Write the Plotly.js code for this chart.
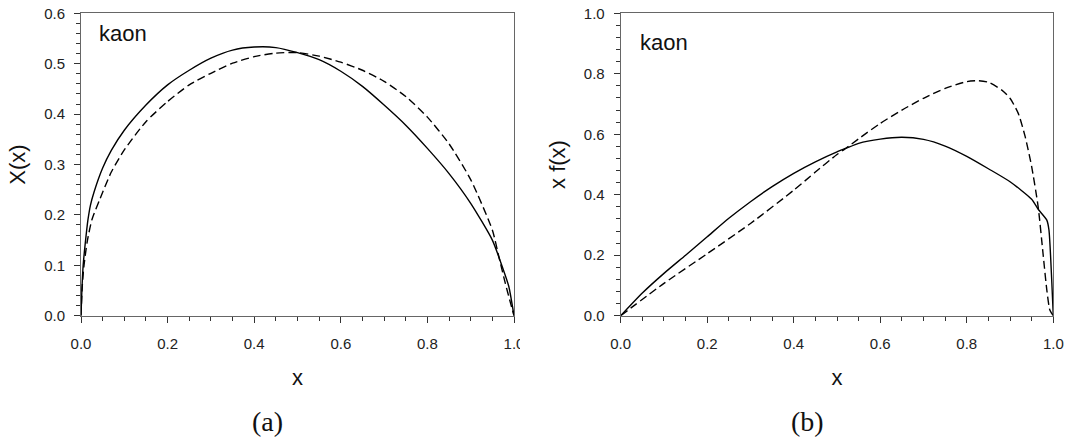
<!DOCTYPE html>
<html>
<head>
<meta charset="utf-8">
<script src="https://cdn.plot.ly/plotly-3.0.1.min.js"></script>
<style>html,body{margin:0;padding:0;background:#fff;}#chart{width:1071px;height:442px;}</style>
</head>
<body>
<div id="chart"></div>
<script>
// Panel (a): X(x) for kaon
const xaSolid = [0, 0.002, 0.005, 0.01, 0.016, 0.022, 0.03, 0.05, 0.07, 0.1, 0.15, 0.2, 0.25, 0.3, 0.35, 0.4, 0.45, 0.5, 0.55, 0.6, 0.65, 0.7, 0.75, 0.8, 0.85, 0.9, 0.95, 0.973, 0.988, 1.0];
const yaSolid = [0, 0.05, 0.1, 0.145, 0.19, 0.22, 0.245, 0.293, 0.328, 0.368, 0.418, 0.458, 0.487, 0.511, 0.527, 0.533, 0.532, 0.522, 0.508, 0.485, 0.455, 0.418, 0.378, 0.332, 0.282, 0.223, 0.150, 0.097, 0.058, 0];
const xaDash = [0, 0.003, 0.007, 0.014, 0.025, 0.043, 0.07, 0.1, 0.15, 0.2, 0.25, 0.3, 0.35, 0.4, 0.45, 0.5, 0.55, 0.6, 0.65, 0.7, 0.75, 0.8, 0.85, 0.9, 0.95, 0.965, 0.98, 0.992, 1.0];
const yaDash = [0, 0.06, 0.1, 0.145, 0.19, 0.23, 0.285, 0.329, 0.385, 0.425, 0.458, 0.481, 0.501, 0.514, 0.521, 0.522, 0.515, 0.503, 0.487, 0.465, 0.435, 0.394, 0.341, 0.27, 0.17, 0.117, 0.064, 0.025, 0];

// Panel (b): x f(x) for kaon
const xbSolid = [0, 0.05, 0.1, 0.15, 0.2, 0.25, 0.3, 0.35, 0.4, 0.45, 0.5, 0.52, 0.55, 0.6, 0.65, 0.7, 0.75, 0.8, 0.85, 0.9, 0.95, 0.965, 0.985, 0.99, 0.996, 1.0];
const ybSolid = [0, 0.075, 0.14, 0.2, 0.261, 0.322, 0.377, 0.427, 0.471, 0.509, 0.542, 0.553, 0.570, 0.584, 0.590, 0.583, 0.561, 0.527, 0.486, 0.443, 0.385, 0.352, 0.316, 0.283, 0.129, 0];
const xbDash = [0, 0.1, 0.2, 0.3, 0.4, 0.45, 0.5, 0.52, 0.55, 0.6, 0.65, 0.7, 0.75, 0.8, 0.827, 0.85, 0.881, 0.9, 0.919, 0.935, 0.95, 0.965, 0.977, 0.985, 0.992, 1.0];
const ybDash = [0, 0.107, 0.205, 0.305, 0.415, 0.475, 0.533, 0.553, 0.585, 0.636, 0.68, 0.719, 0.752, 0.774, 0.777, 0.772, 0.746, 0.719, 0.669, 0.592, 0.493, 0.36, 0.195, 0.085, 0.019, 0];

const xTicks = [0, 0.2, 0.4, 0.6, 0.8, 1.0];
const xTickText = ['0.0', '0.2', '0.4', '0.6', '0.8', '1.0'];
const yaTicks = [0, 0.1, 0.2, 0.3, 0.4, 0.5, 0.6];
const yaTickText = ['0.0', '0.1', '0.2', '0.3', '0.4', '0.5', '0.6'];
const ybTicks = [0, 0.2, 0.4, 0.6, 0.8, 1.0];
const ybTickText = ['0.0', '0.2', '0.4', '0.6', '0.8', '1.0'];

const W = 1071, H = 442;
const px = v => v / W;
const py = v => 1 - v / H;

const solidLine = {color: '#000', width: 1.4, shape: 'spline', smoothing: 0.6};
const dashLine = {color: '#000', width: 1.4, dash: '8px,4px', shape: 'spline', smoothing: 0.6};

const traces = [
  {x: xaSolid, y: yaSolid, xaxis: 'x', yaxis: 'y', mode: 'lines', line: solidLine, hoverinfo: 'skip'},
  {x: xaDash, y: yaDash, xaxis: 'x', yaxis: 'y', mode: 'lines', line: dashLine, hoverinfo: 'skip'},
  {x: xbSolid, y: ybSolid, xaxis: 'x2', yaxis: 'y2', mode: 'lines', line: solidLine, hoverinfo: 'skip'},
  {x: xbDash, y: ybDash, xaxis: 'x2', yaxis: 'y2', mode: 'lines', line: dashLine, hoverinfo: 'skip'}
];

const tickFont = {family: 'Liberation Sans, Arial, sans-serif', size: 15, color: '#222'};
const titleFont = {family: 'Liberation Sans, Arial, sans-serif', size: 22, color: '#111'};

function axisBase(extra) {
  return Object.assign({
    showline: true, linecolor: '#666', linewidth: 1, mirror: true,
    showgrid: false, zeroline: false,
    ticks: 'outside', ticklen: 6, tickwidth: 1, tickcolor: '#333',
    tickfont: tickFont, tickmode: 'array',
    fixedrange: true
  }, extra);
}

const layout = {
  width: W, height: H,
  margin: {l: 0, r: 0, t: 0, b: 0},
  paper_bgcolor: '#fff', plot_bgcolor: '#fff',
  showlegend: false,
  xaxis: axisBase({domain: [px(81), px(514)], range: [0, 1], anchor: 'y',
    tickvals: xTicks, ticktext: xTickText, ticklabelstandoff: 8,
    minor: {dtick: 0.05, tick0: 0, ticks: 'outside', ticklen: 4, tickcolor: '#333'},
    title: {text: 'x', font: titleFont, standoff: 18}}),
  yaxis: axisBase({domain: [py(315.7), py(13.3)], range: [0, 0.6], anchor: 'x',
    tickvals: yaTicks, ticktext: yaTickText, ticklabelstandoff: 6,
    minor: {dtick: 0.02, tick0: 0, ticks: 'outside', ticklen: 4, tickcolor: '#333'},
    title: {text: 'X(x)', font: titleFont, standoff: 12}}),
  xaxis2: axisBase({domain: [px(620.7), px(1053.3)], range: [0, 1], anchor: 'y2',
    tickvals: xTicks, ticktext: xTickText, ticklabelstandoff: 8,
    minor: {dtick: 0.05, tick0: 0, ticks: 'outside', ticklen: 4, tickcolor: '#333'},
    title: {text: 'x', font: titleFont, standoff: 18}}),
  yaxis2: axisBase({domain: [py(315.7), py(13.3)], range: [0, 1], anchor: 'x2',
    tickvals: ybTicks, ticktext: ybTickText, ticklabelstandoff: 6,
    minor: {dtick: 0.04, tick0: 0, ticks: 'outside', ticklen: 4, tickcolor: '#333'},
    title: {text: 'x f(x)', font: titleFont, standoff: 12}}),
  annotations: [
    {text: 'kaon', xref: 'paper', yref: 'paper', x: px(97), y: py(34), xanchor: 'left', yanchor: 'middle', showarrow: false,
     font: {family: 'Liberation Sans, Arial, sans-serif', size: 22, color: '#111'}},
    {text: 'kaon', xref: 'paper', yref: 'paper', x: px(638), y: py(43), xanchor: 'left', yanchor: 'middle', showarrow: false,
     font: {family: 'Liberation Sans, Arial, sans-serif', size: 22, color: '#111'}},
    {text: '(a)', xref: 'paper', yref: 'paper', x: px(267), y: py(421), xanchor: 'center', yanchor: 'middle', showarrow: false,
     font: {family: 'Liberation Serif, Times New Roman, serif', size: 28, color: '#111'}},
    {text: '(b)', xref: 'paper', yref: 'paper', x: px(807), y: py(421), xanchor: 'center', yanchor: 'middle', showarrow: false,
     font: {family: 'Liberation Serif, Times New Roman, serif', size: 28, color: '#111'}}
  ],
  shapes: [
    {type: 'rect', xref: 'paper', yref: 'paper', x0: px(520), x1: px(545), y0: py(354), y1: py(326),
     fillcolor: '#fff', line: {width: 0}, layer: 'above'}
  ]
};

Plotly.newPlot('chart', traces, layout, {staticPlot: true, displayModeBar: false});
</script>
</body>
</html>
